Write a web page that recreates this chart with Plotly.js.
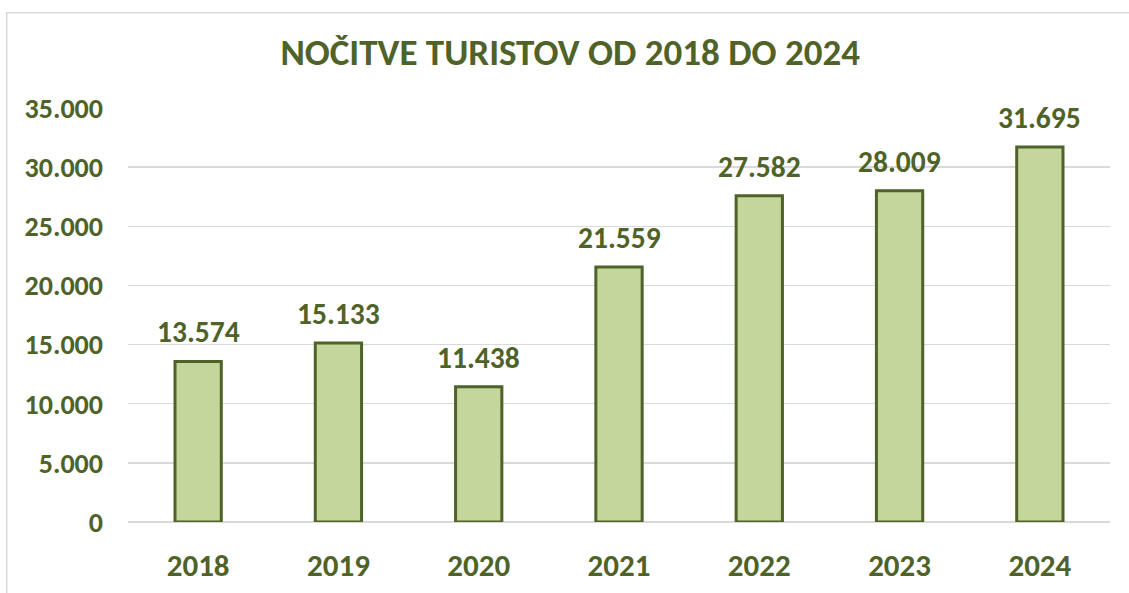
<!DOCTYPE html>
<html><head><meta charset="utf-8">
<script src="https://cdn.plot.ly/plotly-3.0.1.min.js"></script>
<style>html,body{margin:0;padding:0;background:#fff;}#chart{width:1129px;height:593px;}</style>
</head><body><div id="chart"></div>
<script>
const years = ['2018','2019','2020','2021','2022','2023','2024'];
const nights = [13574, 15133, 11438, 21559, 27582, 28009, 31695];
const yTicks = [0, 5000, 10000, 15000, 20000, 25000, 30000, 35000];
const titleText = 'NOČITVE TURISTOV OD 2018 DO 2024';

const green = '#4F6228';
const fnt = 'Carlito, Lato, sans-serif';

const trace = {
  type: 'bar', x: years, y: nights,
  marker: {color: '#C3D69B', line: {color: green, width: 3}},
  hoverinfo: 'skip'
};
const fmt = v => v.toLocaleString('de-DE');
const annotations = years.map((yr, i) => ({
  x: i, y: nights[i], xref: 'x', yref: 'y', text: '<b>' + fmt(nights[i]) + '</b>',
  showarrow: false, yanchor: 'bottom', yshift: 9,
  font: {family: fnt, size: 29.5, color: green}
}));
const layout = {
  width: 1129, height: 593,
  margin: {l: 128, r: 19, t: 108, b: 71},
  paper_bgcolor: '#fff', plot_bgcolor: '#fff',
  separators: ',.',
  title: {text: '<b>' + titleText + '</b>', x: 0.505, xanchor: 'center', y: 0.912, yanchor: 'middle',
    font: {family: fnt, size: 37, color: green}},
  bargap: 0.67,
  xaxis: {type: 'category', range: [-0.5, 6.5], showgrid: false, zeroline: false, showline: false,
    ticks: '', ticklabelstandoff: 22,
    tickfont: {family: fnt, size: 31, color: green, weight: 'bold'}},
  yaxis: {range: [0, 35000], tickvals: yTicks, tickformat: ',', showgrid: true,
    gridcolor: '#D9D9D9', gridwidth: 1.5, zeroline: true, zerolinecolor: '#D9D9D9', zerolinewidth: 1.5,
    showline: false, ticks: '', ticklabelstandoff: 24,
    tickfont: {family: fnt, size: 28, color: green, weight: 'bold'}},
  annotations: annotations,
  shapes: [{type: 'rect', xref: 'paper', yref: 'paper', x0: -0.1235, x1: 1.1, y0: -0.5, y1: 1.23,
    line: {color: '#D9D9D9', width: 1.5}, fillcolor: 'rgba(0,0,0,0)', layer: 'below'}],
  showlegend: false
};
Plotly.newPlot('chart', [trace], layout, {displayModeBar: false, staticPlot: true});
</script></body></html>
